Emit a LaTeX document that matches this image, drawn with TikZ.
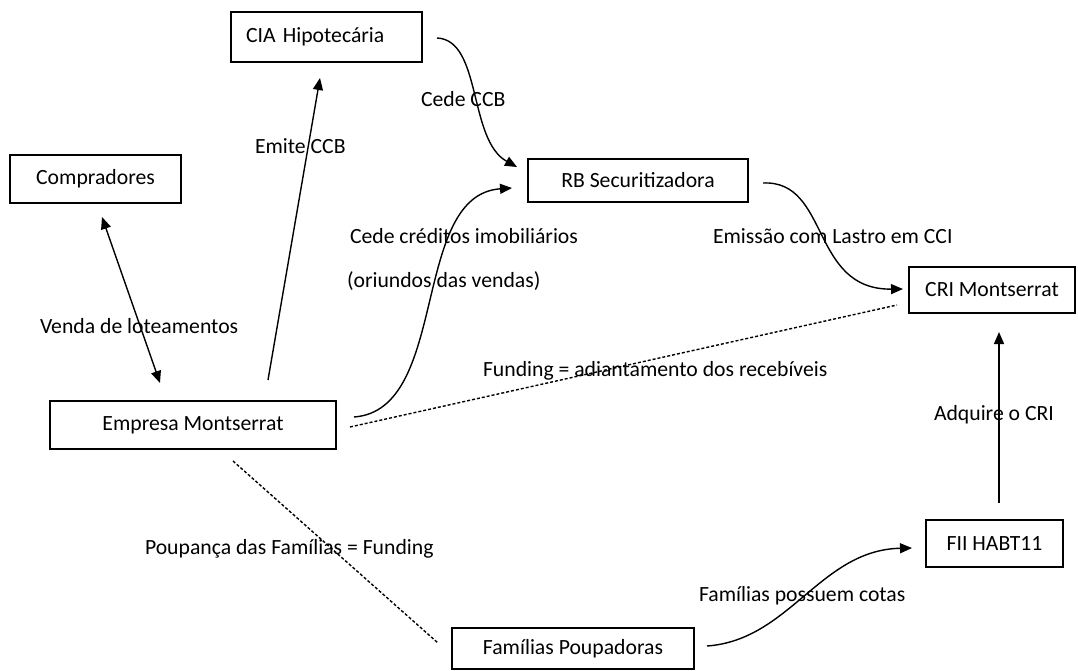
\documentclass[tikz,border=0pt]{standalone}
\usepackage{fontspec}
\setmainfont{Carlito}
\usetikzlibrary{arrows.meta,calc}
\tikzset{
  boxnode/.style={draw=black, line width=1.5pt, rectangle, inner sep=0pt, outer sep=0pt},
  lbl/.style={anchor=base west, inner sep=0pt, outer sep=0pt},
  conn/.style={line width=1.4pt, -{Triangle[length=12pt,width=10pt]}},
  dconn/.style={line width=1.4pt, {Triangle[length=12pt,width=10pt]}-{Triangle[length=12pt,width=10pt]}},
  dotline/.style={line width=1.4pt, dash pattern=on 3pt off 2pt},
}
\begin{document}
\begin{tikzpicture}[x=1pt,y=-1pt,font=\fontsize{21.7}{26}\selectfont]
\useasboundingbox (0,0) rectangle (1078,671);
% boxes
\node[boxnode, minimum width=191pt, minimum height=50pt, text width=161pt, align=left] (cia) at (326.5,37) {CIA Hipotecária};
\node[boxnode, minimum width=171pt, minimum height=48pt] (comp) at (95.5,179) {Compradores};
\node[boxnode, minimum width=286pt, minimum height=48pt] (emp) at (193,425) {Empresa Montserrat};
\node[boxnode, minimum width=220pt, minimum height=43pt] (rb) at (638,180.5) {RB Securitizadora};
\node[boxnode, minimum width=166pt, minimum height=46pt] (cri) at (992,290) {CRI Montserrat};
\node[boxnode, minimum width=137pt, minimum height=47pt] (fii) at (994.5,543.5) {FII HABT11};
\node[boxnode, minimum width=242pt, minimum height=41pt] (fam) at (573,648.5) {Famílias Poupadoras};
% connectors
\draw[conn] ($(emp.north)+(75,-21)$) -- ($(cia.south)+(-6.5,16)$);
\draw[dconn] ($(comp.south)+(6.5,14)$) -- ($(emp.north)+(-33,-18)$);
\draw[conn] ($(cia.east)+(15,1)$) .. controls (482,40) and (468,140) .. ($(rb.west)+(-11,-13.5)$);
\draw[conn] ($(emp.east)+(18,-8)$) .. controls (450,410) and (410,195) .. ($(rb.west)+(-16,7.5)$);
\draw[conn] ($(rb.east)+(15,2.5)$) .. controls (830,180) and (810,290) .. ($(cri.west)+(-6,-1)$);
\draw[dotline] ($(emp.east)+(14,2)$) -- ($(cri.west)+(-12,15)$);
\draw[conn] ($(fii.north)+(4.5,-17)$) -- ($(cri.south)+(7,19)$);
\draw[dotline] ($(emp.south)+(40,12)$) -- ($(fam.west)+(-14,-5.5)$);
\draw[conn] ($(fam.east)+(13,-2.5)$) .. controls (790,640) and (820,550) .. ($(fii.west)+(-14,4.5)$);
% labels
\node[lbl] (l1) at (255,154) {Emite CCB};
\node[lbl] (l2) at (40,333) {Venda de loteamentos};
\node[lbl] (l3) at (421,107) {Cede CCB};
\node[lbl] (l4) at (350,243) {Cede créditos imobiliários};
\node[lbl] (l5) at (347,287) {(oriundos das vendas)};
\node[lbl] (l6) at (713,243) {Emissão com Lastro em CCI};
\node[lbl] (l7) at (483,376) {Funding = adiantamento dos recebíveis};
\node[lbl] (l8) at (934,420) {Adquire o CRI};
\node[lbl] (l9) at (145,554) {Poupança das Famílias = Funding};
\node[lbl] (l10) at (699,601) {Famílias possuem cotas};
\end{tikzpicture}
\end{document}
